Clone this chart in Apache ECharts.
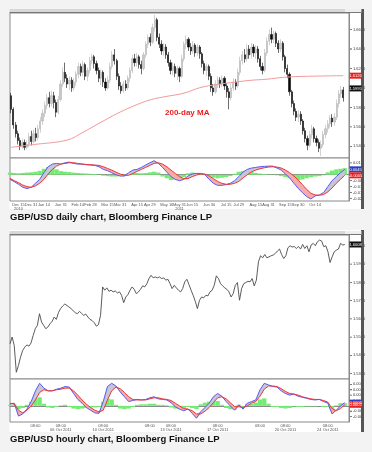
<!DOCTYPE html>
<html><head><meta charset="utf-8">
<script src="https://cdn.jsdelivr.net/npm/echarts@6/dist/echarts.min.js"></script>
<style>html,body{margin:0;padding:0;background:#f3f3f3;}#c{width:372px;height:452px;}</style>
</head><body><div id="c"></div>
<script>
// ---------- DAILY (candles: [open, close, low, high]) ----------
const dailyCandles = [
[1.592,1.578,1.574,1.595],[1.578,1.562,1.558,1.580],[1.562,1.553,1.549,1.565],[1.553,1.546,1.542,1.556],[1.546,1.540,1.536,1.549],
[1.540,1.544,1.537,1.548],[1.544,1.539,1.536,1.547],[1.539,1.542,1.537,1.546],[1.542,1.550,1.539,1.554],[1.550,1.545,1.541,1.556],
[1.545,1.553,1.543,1.557],[1.553,1.549,1.545,1.559],[1.549,1.558,1.546,1.562],[1.558,1.566,1.554,1.570],[1.566,1.574,1.562,1.578],
[1.574,1.582,1.570,1.586],[1.582,1.590,1.578,1.594],[1.590,1.584,1.580,1.596],[1.584,1.592,1.581,1.597],[1.592,1.585,1.579,1.596],
[1.585,1.575,1.570,1.588],[1.575,1.588,1.573,1.592],[1.588,1.604,1.586,1.608],[1.604,1.616,1.601,1.621],[1.616,1.610,1.606,1.626],
[1.610,1.604,1.600,1.614],[1.604,1.608,1.598,1.612],[1.608,1.600,1.596,1.611],[1.600,1.606,1.597,1.610],[1.606,1.614,1.602,1.617],
[1.614,1.622,1.610,1.626],[1.622,1.616,1.612,1.625],[1.616,1.624,1.612,1.628],[1.624,1.612,1.608,1.626],[1.612,1.618,1.607,1.621],
[1.618,1.628,1.615,1.632],[1.628,1.632,1.624,1.635],[1.632,1.625,1.620,1.634],[1.625,1.618,1.614,1.628],[1.618,1.610,1.606,1.621],
[1.610,1.616,1.603,1.619],[1.616,1.606,1.601,1.618],[1.606,1.600,1.597,1.610],[1.600,1.608,1.598,1.612],[1.608,1.622,1.605,1.626],
[1.622,1.634,1.619,1.638],[1.634,1.628,1.624,1.640],[1.628,1.612,1.608,1.630],[1.612,1.602,1.598,1.615],[1.602,1.597,1.594,1.606],
[1.597,1.604,1.595,1.607],[1.604,1.600,1.597,1.608],[1.600,1.610,1.598,1.613],[1.610,1.618,1.606,1.621],[1.618,1.630,1.615,1.634],
[1.630,1.626,1.622,1.635],[1.626,1.632,1.622,1.636],[1.632,1.624,1.620,1.634],[1.624,1.620,1.614,1.628],[1.620,1.634,1.618,1.637],
[1.634,1.645,1.631,1.648],[1.645,1.652,1.641,1.655],[1.652,1.647,1.643,1.656],[1.647,1.662,1.645,1.666],[1.662,1.670,1.658,1.675],
[1.670,1.652,1.648,1.672],[1.652,1.645,1.641,1.656],[1.645,1.638,1.634,1.649],[1.638,1.642,1.633,1.646],[1.642,1.634,1.630,1.645],
[1.634,1.626,1.622,1.637],[1.626,1.618,1.614,1.629],[1.618,1.622,1.613,1.626],[1.622,1.615,1.611,1.625],[1.615,1.620,1.608,1.623],
[1.620,1.612,1.606,1.622],[1.612,1.630,1.610,1.634],[1.630,1.645,1.627,1.648],[1.645,1.650,1.640,1.654],[1.650,1.642,1.638,1.652],
[1.642,1.638,1.634,1.646],[1.638,1.644,1.635,1.648],[1.644,1.636,1.632,1.646],[1.636,1.642,1.633,1.645],[1.642,1.635,1.630,1.644],
[1.635,1.625,1.621,1.637],[1.625,1.618,1.614,1.628],[1.618,1.622,1.612,1.625],[1.622,1.612,1.608,1.624],[1.612,1.600,1.596,1.615],
[1.600,1.596,1.592,1.604],[1.596,1.604,1.594,1.608],[1.604,1.608,1.600,1.612],[1.608,1.604,1.600,1.611],[1.604,1.610,1.601,1.613],
[1.610,1.602,1.598,1.612],[1.602,1.596,1.590,1.605],[1.596,1.590,1.578,1.600],[1.590,1.600,1.587,1.604],[1.600,1.606,1.597,1.610],
[1.606,1.602,1.598,1.609],[1.602,1.616,1.600,1.620],[1.616,1.628,1.613,1.632],[1.628,1.634,1.624,1.638],[1.634,1.630,1.626,1.640],
[1.630,1.640,1.627,1.645],[1.640,1.634,1.630,1.644],[1.634,1.642,1.630,1.646],[1.642,1.636,1.632,1.645],[1.636,1.640,1.630,1.644],
[1.640,1.630,1.626,1.643],[1.630,1.622,1.618,1.633],[1.622,1.618,1.614,1.626],[1.618,1.636,1.616,1.640],[1.636,1.648,1.633,1.652],
[1.648,1.655,1.644,1.660],[1.655,1.650,1.646,1.662],[1.650,1.656,1.646,1.659],[1.656,1.646,1.642,1.658],[1.646,1.640,1.636,1.649],
[1.640,1.646,1.637,1.650],[1.646,1.632,1.628,1.648],[1.632,1.620,1.616,1.634],[1.620,1.614,1.610,1.624],[1.614,1.596,1.592,1.616],
[1.596,1.584,1.580,1.598],[1.584,1.576,1.572,1.587],[1.576,1.570,1.566,1.579],[1.570,1.573,1.565,1.577],[1.573,1.566,1.562,1.576],
[1.566,1.556,1.552,1.568],[1.556,1.548,1.544,1.559],[1.548,1.541,1.536,1.551],[1.541,1.552,1.539,1.556],[1.552,1.558,1.548,1.562],
[1.558,1.548,1.544,1.560],[1.548,1.544,1.540,1.551],[1.544,1.538,1.534,1.547],[1.538,1.542,1.530,1.546],[1.542,1.552,1.539,1.556],
[1.552,1.558,1.548,1.562],[1.558,1.563,1.554,1.567],[1.563,1.569,1.559,1.572],[1.569,1.565,1.560,1.573],[1.565,1.570,1.561,1.574],
[1.570,1.584,1.567,1.588],[1.584,1.594,1.580,1.598],[1.594,1.598,1.590,1.602],[1.598,1.590,1.586,1.601]
];
const dailyLastPrice = 1.5995;
// 200-day moving average read at candle indices [index, value]
const dailyMA = [[0,1.539],[10,1.5418],[25,1.5465],[32,1.5544],[40,1.5647],[47,1.5734],[54,1.5809],[62,1.5878],[69,1.5912],
[77,1.5946],[84,1.6002],[92,1.6036],[99,1.6057],[106,1.6077],[114,1.609],[121,1.6108],[129,1.6118],[148,1.6126]];
const dailyMacd = [-0.0039,-0.0058,-0.008,-0.0105,-0.0116,-0.0105,-0.0072,-0.0039,0.0017,0.0067,
0.0089,0.0095,0.0089,0.01,0.0106,0.0095,0.0089,0.0089,0.0084,0.0081,
0.0078,0.0067,0.0045,0.0034,0.0017,0,-0.0011,-0.0011,0.0017,0.0039,
0.0045,0.0061,0.0081,0.01,0.0117,0.0095,0.0061,0.0022,-0.0016,-0.0039,
-0.005,-0.0039,-0.0011,0.0006,0.0011,0.0011,0,-0.0039,-0.0072,-0.0089,
-0.0089,-0.0083,-0.0072,-0.005,-0.0016,0.0022,0.0045,0.0056,0.0061,0.0067,
0.007,0.0072,0.0072,0.0056,0.0039,0.0006,-0.0027,-0.0072,-0.0114,-0.015,
-0.0183,-0.0203,-0.0178,-0.0169,-0.015,-0.01,-0.005,-0.0016,0.0017,0.0045];
const dailySignal = [-0.003,-0.005,-0.0066,-0.0086,-0.01,-0.0105,-0.0094,-0.0072,-0.0039,0.0006,
0.0045,0.0072,0.0089,0.0095,0.01,0.01,0.0095,0.0089,0.0086,0.0084,
0.0081,0.0078,0.0067,0.0053,0.0039,0.0022,0.0006,-0.0005,-0.0005,0.0011,
0.0028,0.0045,0.0061,0.0078,0.0095,0.01,0.0089,0.0067,0.0039,0.0011,
-0.0016,-0.0033,-0.0033,-0.0016,-0.0003,0.0006,0.0006,-0.0011,-0.0033,-0.0056,
-0.0072,-0.008,-0.008,-0.0072,-0.0056,-0.0027,0,0.0025,0.0039,0.005,
0.0058,0.0064,0.0067,0.0064,0.0056,0.0039,0.0017,-0.0011,-0.0044,-0.0083,
-0.0122,-0.0155,-0.0169,-0.0172,-0.0166,-0.0144,-0.0111,-0.0072,-0.0039,-0.0005];
const dailyHist = [0.0018,0.0015,0.0012,0.0015,0.0018,0.002,0.0025,0.0032,0.005,0.0065,
0.0065,0.0045,0.003,0.0025,0.0022,0.0018,0.0015,0.0012,0.001,0.0008,
0.0006,0.0002,-0.0008,-0.0012,-0.0015,-0.0015,-0.0012,-0.0006,0.0015,0.0018,
0.0015,0.0012,0.0015,0.002,0.0025,0.0018,-0.0015,-0.003,-0.0045,-0.004,
-0.0035,-0.002,0.0012,0.0018,0.0015,0.0012,0.0005,-0.0015,-0.0025,-0.003,
-0.0025,-0.002,-0.0012,0.0008,0.0025,0.0032,0.003,0.0025,0.0015,0.001,
0.0006,0.0003,0.0002,-0.0005,-0.0012,-0.002,-0.003,-0.004,-0.0045,-0.004,
-0.003,-0.002,-0.0015,-0.0012,-0.0005,0.002,0.0035,0.0045,0.005,0.0055];
const dailyTickLabels = {2:'Dec 15\n2010',5:'Dec 31',8:'Jan 14',12:'Jan 31',16:'Feb 14',19:'Feb 28',23:'Mar 15',26:'Mar 31',
30:'Apr 15',33:'Apr 29',37:'May 16',40:'May 31\n2011',43:'Jun 15',47:'Jun 30',51:'Jul 15',54:'Jul 29',58:'Aug 15',61:'Aug 31',
65:'Sep 15',68:'Sep 30',72:'Oct 14'};

// ---------- HOURLY ----------
const hourlyClose = [1.5463,1.5500,1.5454,1.5307,1.5344,1.5390,1.5426,1.5445,1.5457,1.5450,
1.5468,1.5509,1.5546,1.5564,1.5628,1.5582,1.5564,1.5546,1.5555,1.5573,
1.5586,1.5610,1.5597,1.5634,1.5656,1.5670,1.5681,1.5674,1.5665,1.5656,
1.5645,1.5634,1.5628,1.5641,1.5630,1.5619,1.5626,1.5610,1.5597,1.5591,
1.5579,1.5560,1.5568,1.5619,1.5775,1.5757,1.5770,1.5751,1.5757,1.5748,
1.5753,1.5742,1.5748,1.5729,1.5689,1.5720,1.5733,1.5757,1.5775,1.5762,
1.5738,1.5748,1.5762,1.5781,1.5775,1.5793,1.5821,1.5839,1.5825,1.5830,
1.5825,1.5830,1.5821,1.5825,1.5812,1.5817,1.5793,1.5766,1.5784,1.5770,
1.5757,1.5748,1.5766,1.5803,1.5817,1.5788,1.5757,1.5729,1.5696,1.5656,
1.5702,1.5720,1.5715,1.5729,1.5726,1.5748,1.5757,1.5784,1.5836,1.5821,
1.5793,1.5781,1.5770,1.5762,1.5748,1.5720,1.5738,1.5784,1.5799,1.5702,
1.5766,1.5793,1.5799,1.5806,1.5803,1.5821,1.5781,1.5812,1.5913,1.5946,
1.5935,1.5953,1.5935,1.5940,1.5946,1.5950,1.5959,1.5972,1.5983,1.5953,
1.5931,1.5946,1.5990,1.6001,1.5994,1.5997,1.5986,1.5997,1.5983,1.6008,
1.5986,1.6001,1.5968,1.6005,1.6014,1.6001,1.6023,1.6032,1.6027,1.5996,
1.6001,1.5968,1.5909,1.5940,1.5968,1.5977,1.5983,1.6014,1.6005,1.6008];
const hourlyMacd = [0.00035,0.0005,-0.0019,-0.0015,-0.0006,0.0008,0.0028,0.0042,0.0033,0.0028,
0.0028,0.0031,0.0033,0.0036,0.0035,0.0023,0.0012,0.0005,-0.0003,-0.0008,
-0.0013,-0.0014,0.0008,0.0036,0.0042,0.0037,0.0026,0.0017,0.0008,0.001,
0.0012,0.0011,0.0012,0.0015,0.0017,0.0013,0.0012,0.0011,0.0006,-0.00015,
-0.0006,-0.0009,-0.0006,-0.0014,-0.0023,-0.0011,-0.0003,0.0005,0.0017,0.0023,
0.0018,0.0008,0,-0.0008,0.0002,-0.0006,0.0005,0.0008,0.0011,0.003,
0.0042,0.0039,0.0036,0.0035,0.0028,0.0023,0.002,0.0022,0.0018,0.0016,
0.0014,0.0012,0.0011,0.0012,0.0008,0.0005,-0.0015,-0.0008,0,0.0006];
const hourlySignal = [0.0005,0.00035,-0.0008,-0.0013,-0.0008,0,0.0011,0.0025,0.003,0.0028,
0.0028,0.003,0.0031,0.0033,0.0033,0.0028,0.002,0.0011,0.00035,-0.0003,
-0.0008,-0.0011,-0.0008,0.0011,0.0028,0.0035,0.0032,0.0025,0.0017,0.0012,
0.0011,0.0011,0.0011,0.0013,0.0015,0.0015,0.0013,0.0012,0.001,0.0005,
0,-0.0005,-0.0006,-0.0009,-0.0015,-0.0015,-0.001,-0.0003,0.0006,0.0015,
0.0017,0.0013,0.0006,-0.00015,-0.00015,-0.0003,0,0.0005,0.0008,0.0018,
0.0031,0.0037,0.0037,0.0036,0.0032,0.0027,0.0023,0.0022,0.002,0.0017,
0.0015,0.0013,0.0012,0.0012,0.001,0.0007,-0.0005,-0.0009,-0.0005,0.0002];
const hourlyHist = [0.0002,0.0003,-0.0006,-0.0004,0.0002,0.0008,0.0014,0.0016,0.0004,-0.0003,
-0.0004,-0.0002,0.0001,0.0002,-0.0002,-0.0005,-0.0006,-0.0005,-0.0004,-0.0003,
-0.0003,-0.0002,0.0008,0.0014,0.0012,0.0002,-0.0005,-0.0006,-0.0005,-0.0002,
0.0002,0.0003,0.0003,0.0004,0.0004,0.0002,0.0002,0.0001,-0.0003,-0.0005,
-0.0006,-0.0004,-0.0002,-0.0004,-0.0006,0.0003,0.0006,0.0008,0.001,0.0009,
0.0002,-0.0004,-0.0006,-0.0007,0.0002,-0.0002,0.0004,0.0004,0.0006,0.0012,
0.0014,0.0004,-0.0002,-0.0002,-0.0004,-0.0005,-0.0004,-0.0001,-0.0002,-0.0002,
-0.0001,-0.0001,-0.0001,0,-0.0002,-0.0002,-0.0008,0.0001,0.0005,0.0005];
const hourlyTickLabels = {6:'08:00',12:'08:00\n06 Oct 2011',22:'08:00\n10 Oct 2011',33:'08:00',38:'08:00\n13 Oct 2011',
49:'08:00\n17 Oct 2011',59:'08:00',65:'08:00\n20 Oct 2011',75:'08:00\n24 Oct 2011'};

// ---------- build ----------
const FONT = '"Liberation Sans", Arial, sans-serif';
const dailyCats = Array.from({length: dailyCandles.length + 2}, (_, i) => 'd' + i);
const hourlyCats = Array.from({length: hourlyClose.length + 2}, (_, i) => 'h' + i);
const macdCats = Array.from({length: 81}, (_, i) => 'm' + i);

function fillParts(m, s) {
  return {
    base: m.map((v, i) => Math.min(v, s[i])),
    pink: m.map((v, i) => Math.max(0, s[i] - v)),
    gray: m.map((v, i) => Math.max(0, v - s[i]))
  };
}
const fD = fillParts(dailyMacd, dailySignal);
const fH = fillParts(hourlyMacd, hourlySignal);

const tickRich = {
  t: {width: 2, height: 0.8, backgroundColor: '#555'},
  v: {fontSize: 4, color: '#333', padding: [0, 0, 0, 1], fontFamily: FONT}
};
function valAxis(gridIndex, min, max, interval, showFn, fmtFn) {
  return {
    type: 'value', gridIndex, position: 'right', min, max, interval, scale: true,
    axisLine: {show: true, lineStyle: {color: '#8a8a8a', width: 1}},
    axisTick: {show: false}, splitLine: {show: false},
    axisLabel: {margin: 1, rich: tickRich,
      formatter: v => showFn(v) ? '{t|}{v|' + fmtFn(v) + '}' : ''}
  };
}
function dateAxis(gridIndex, labels) {
  return {
    type: 'category', gridIndex, data: macdCats, boundaryGap: false,
    axisLine: {show: true, lineStyle: {color: '#8a8a8a'}},
    axisTick: {show: false}, splitLine: {show: false},
    axisLabel: {show: true, margin: 1.5, fontSize: 4, lineHeight: 4.2, color: '#555', fontFamily: FONT,
      interval: idx => labels[idx] !== undefined, formatter: (v, idx) => labels[idx] || ''}
  };
}
function macdSeries(ax, f, m, s, h) {
  const base = {type: 'line', xAxisIndex: ax, yAxisIndex: ax, symbol: 'none', silent: true, animation: false,
    stack: 'fill' + ax, stackStrategy: 'all', lineStyle: {width: 0, opacity: 0}};
  return [
    {type: 'bar', xAxisIndex: ax, yAxisIndex: ax, data: h, barWidth: 4.3, silent: true,
      itemStyle: {color: '#74ec74'}, z: 1},
    Object.assign({}, base, {data: f.base, z: 2}),
    Object.assign({}, base, {data: f.pink, z: 2, areaStyle: {color: '#f5abab', opacity: 1}}),
    Object.assign({}, base, {data: f.gray, z: 2, areaStyle: {color: '#c6c6d4', opacity: 1}}),
    {type: 'line', xAxisIndex: ax, yAxisIndex: ax, data: m, symbol: 'none', silent: true, z: 4,
      lineStyle: {color: '#5a5af0', width: 1}},
    {type: 'line', xAxisIndex: ax, yAxisIndex: ax, data: s, symbol: 'none', silent: true, z: 4,
      lineStyle: {color: '#ee3535', width: 1}}
  ];
}

const chart = echarts.init(document.getElementById('c'), null, {renderer: 'canvas'});
const gridBase = {left: 10, right: 23, show: true, backgroundColor: '#fff', borderColor: '#8a8a8a', borderWidth: 1, containLabel: false};
chart.setOption({
  animation: false,
  backgroundColor: '#f3f3f3',
  grid: [
    Object.assign({}, gridBase, {top: 13, height: 145}),
    Object.assign({}, gridBase, {top: 158, height: 43}),
    Object.assign({}, gridBase, {top: 235, height: 144}),
    Object.assign({}, gridBase, {top: 379, height: 43})
  ],
  xAxis: [
    {type: 'category', gridIndex: 0, data: dailyCats, boundaryGap: true, axisLine: {show: false}, axisTick: {show: false}, axisLabel: {show: false}},
    dateAxis(1, dailyTickLabels),
    {type: 'category', gridIndex: 2, data: hourlyCats, boundaryGap: false, axisLine: {show: false}, axisTick: {show: false}, axisLabel: {show: false}},
    dateAxis(3, hourlyTickLabels)
  ],
  yAxis: [
    valAxis(0, 1.528, 1.677, 0.001, v => { const k = Math.round(v * 1000); return k % 20 === 0 && k > 1530 && k < 1675; }, v => v.toFixed(4)),
    valAxis(1, -0.022, 0.014, 0.001, v => { const k = Math.round(v * 1000); return k % 5 === 0 && k > -22 && k < 14; }, v => String(Math.round(v * 1000) / 1000)),
    valAxis(2, 1.527, 1.606, 0.001, v => { const k = Math.round(v * 1000); return k % 10 === 0 && k > 1527 && k < 1606; }, v => v.toFixed(4)),
    valAxis(3, -0.003, 0.005, 0.001, v => { const k = Math.round(v * 1000); return k > -3 && k < 5; }, v => v.toFixed(3))
  ],
  series: [
    {type: 'candlestick', xAxisIndex: 0, yAxisIndex: 0, data: dailyCandles, barWidth: 1.7, silent: true,
      itemStyle: {color: '#c8c8c8', color0: '#0a0a0a', borderColor: '#b4b4b4', borderColor0: '#0a0a0a', borderWidth: 0.6}},
    {type: 'line', xAxisIndex: 0, yAxisIndex: 0, data: dailyMA, symbol: 'none', smooth: 0.4, silent: true, z: 3,
      lineStyle: {color: '#f29a9a', width: 1}},
    ...macdSeries(1, fD, dailyMacd, dailySignal, dailyHist),
    {type: 'line', xAxisIndex: 2, yAxisIndex: 2, data: hourlyClose, symbol: 'none', silent: true,
      lineStyle: {color: '#4a4a4a', width: 0.9}},
    ...macdSeries(3, fH, hourlyMacd, hourlySignal, hourlyHist)
  ]
});

function tag(axis, value, bg, text) {
  const y = chart.convertToPixel({yAxisIndex: axis}, value);
  return {type: 'group', x: 349.5, y: y - 3, z: 100, children: [
    {type: 'rect', shape: {x: 0, y: 0, width: 12, height: 6}, style: {fill: bg}, z: 100},
    {type: 'text', z: 101, style: {text, x: 6, y: 3.2, fill: '#fff', font: '4px ' + FONT, textAlign: 'center', textVerticalAlign: 'middle'}}
  ]};
}
function header(y) {
  return [
    {type: 'rect', z: 50, shape: {x: 9.5, y: y, width: 352, height: 4}, style: {fill: '#d8d8d8'}},
    {type: 'line', z: 51, shape: {x1: 9.5, y1: y + 3.5, x2: 361.5, y2: y + 3.5}, style: {stroke: '#777', lineWidth: 1}},
    {type: 'rect', z: 52, shape: {x: 345, y: y, width: 16, height: 3}, style: {fill: '#efefef'}}
  ];
}
const lastMA = dailyMA[dailyMA.length - 1][1];
chart.setOption({
  graphic: [
    {type: 'rect', z: -10, shape: {x: 9.5, y: 9, width: 352, height: 200}, style: {fill: '#fff'}},
    {type: 'rect', z: -10, shape: {x: 9.5, y: 230, width: 352, height: 202}, style: {fill: '#fff'}},
    {type: 'rect', z: 50, shape: {x: 361, y: 9, width: 3, height: 200}, style: {fill: '#555'}},
    {type: 'rect', z: 50, shape: {x: 361, y: 230, width: 3, height: 202}, style: {fill: '#555'}},
    ...header(9), ...header(231),
    {type: 'text', z: 60, left: 165, top: 109, style: {text: '200-day MA', font: 'bold 8px ' + FONT, fill: '#ee1c1c'}},
    {type: 'text', z: 60, left: 10, top: 212.3, style: {text: 'GBP/USD daily chart, Bloomberg Finance LP', font: 'bold 9.5px ' + FONT, fill: '#111'}},
    {type: 'text', z: 60, left: 10, top: 434, style: {text: 'GBP/USD hourly chart, Bloomberg Finance LP', font: 'bold 9.5px ' + FONT, fill: '#111'}},
    tag(0, lastMA, '#e82020', lastMA.toFixed(4)),
    tag(0, dailyLastPrice, '#111', dailyLastPrice.toFixed(4)),
    tag(1, dailyMacd[dailyMacd.length - 1], '#2e3fc0', dailyMacd[dailyMacd.length - 1].toFixed(4)),
    tag(1, dailySignal[dailySignal.length - 1], '#e82020', dailySignal[dailySignal.length - 1].toFixed(4)),
    tag(2, hourlyClose[hourlyClose.length - 1], '#111', hourlyClose[hourlyClose.length - 1].toFixed(4)),
    tag(3, hourlyMacd[hourlyMacd.length - 1], '#2e3fc0', hourlyMacd[hourlyMacd.length - 1].toFixed(4)),
    tag(3, hourlySignal[hourlySignal.length - 1], '#e82020', hourlySignal[hourlySignal.length - 1].toFixed(4))
  ]
});
</script></body></html>
